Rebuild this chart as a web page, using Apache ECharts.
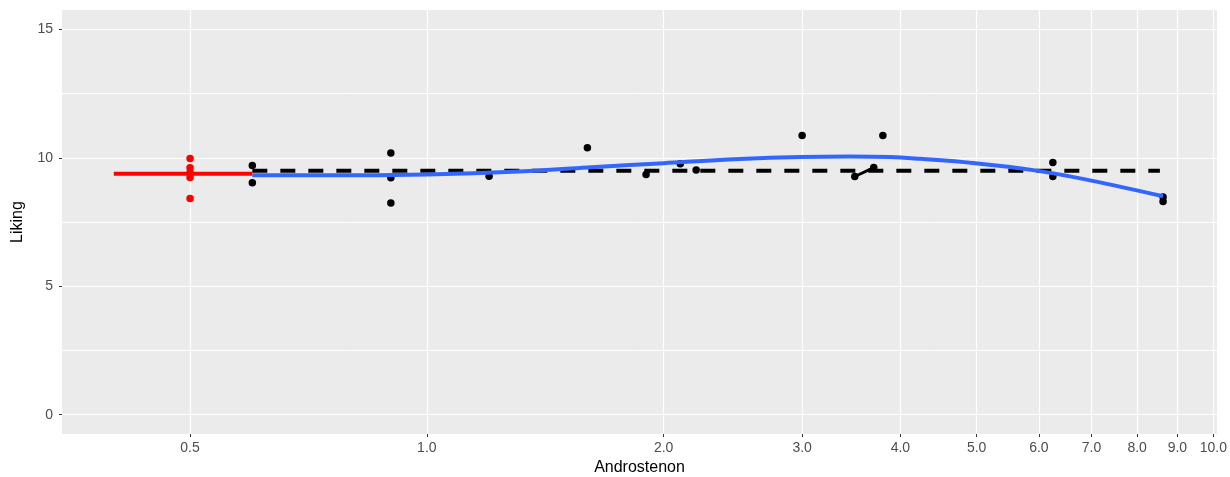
<!DOCTYPE html>
<html>
<head>
<meta charset="utf-8">
<title>Liking vs Androstenon</title>
<script src="https://cdn.jsdelivr.net/npm/echarts@6/dist/echarts.min.js"></script>
<style>
  html, body { margin: 0; padding: 0; background: #ffffff; }
  #chart { width: 1230px; height: 477px; }
</style>
</head>
<body>
<div id="chart"></div>
<script>
// Androstenon concentration (log scale) against liking scores
const xTicks = [0.5, 1, 2, 3, 4, 5, 6, 7, 8, 9, 10];
const xTickLabels = ['0.5', '1.0', '2.0', '3.0', '4.0', '5.0', '6.0', '7.0', '8.0', '9.0', '10.0'];
const yTicks = [0, 5, 10, 15];
const yMinorTicks = [2.5, 7.5, 12.5];

// control samples (red) at 0.5
const controlX = [0.5, 0.5, 0.5, 0.5, 0.5];
const controlY = [9.97, 9.61, 9.43, 9.23, 8.41];

// measured samples
const sampleX = [0.6, 0.6, 0.9, 0.9, 0.9, 1.2, 1.6, 1.9, 2.1, 2.2, 3.0, 3.5, 3.7, 3.8, 6.25, 6.25, 8.63, 8.63];
const sampleY = [9.70, 9.03, 10.19, 9.22, 8.24, 9.28, 10.39, 9.35, 9.77, 9.52, 10.87, 9.27, 9.62, 10.87, 9.82, 9.27, 8.47, 8.30];

// short link between the 3.5 and 3.7 samples
const linkX = [3.5, 3.7];
const linkY = [9.27, 9.62];

// control mean level
const controlLineX = [0.4, 0.6];
const controlLineY = [9.38, 9.38];

// overall mean of the samples (dashed)
const meanLineX = [0.6, 8.55];
const meanLineY = [9.49, 9.49];

// smoothed trend (blue)
const smoothX = [0.6, 0.82, 1.0, 1.31, 1.6, 2.0, 2.5, 2.98, 3.45, 3.88, 4.24, 4.94, 5.96, 6.97, 8.63];
const smoothY = [9.32, 9.32, 9.35, 9.47, 9.62, 9.79, 9.95, 10.03, 10.05, 10.03, 9.96, 9.80, 9.50, 9.12, 8.50];

const lg = v => Math.log10(v);
const pairs = (xs, ys) => xs.map((x, i) => [lg(x), ys[i]]);

const chart = echarts.init(document.getElementById('chart'), null, { renderer: 'canvas' });

const labelFont = { fontFamily: 'Liberation Sans, Arial, sans-serif', fontSize: 14, color: '#4D4D4D' };
const titleFont = { fontFamily: 'Liberation Sans, Arial, sans-serif', fontSize: 16, color: '#000000' };

chart.setOption({
  animation: false,
  backgroundColor: '#ffffff',
  grid: {
    left: 62, right: 13, top: 10, bottom: 43,
    outerBoundsMode: 'none',
    containLabel: false,
    show: true, backgroundColor: '#EBEBEB', borderWidth: 0
  },
  xAxis: {
    type: 'value',
    min: lg(0.3437),
    max: lg(10.106),
    name: 'Androstenon',
    nameLocation: 'middle',
    nameGap: 26,
    nameTextStyle: titleFont,
    axisLine: { show: false, onZero: false },
    axisTick: {
      show: true, length: 3,
      lineStyle: { color: '#333333', width: 1 },
      customValues: xTicks.map(lg)
    },
    axisLabel: {
      ...labelFont,
      margin: 7,
      customValues: xTicks.map(lg),
      formatter: v => {
        let best = 0, bd = Infinity;
        xTicks.forEach((t, i) => { const d = Math.abs(lg(t) - v); if (d < bd) { bd = d; best = i; } });
        return xTickLabels[best];
      }
    },
    splitLine: { show: true, lineStyle: { color: '#FFFFFF', width: 1.2 } }
  },
  yAxis: [
    {
      type: 'value',
      min: -0.75,
      max: 15.75,
      name: 'Liking',
      nameLocation: 'middle',
      nameGap: 36,
      nameTextStyle: titleFont,
      axisLine: { show: false, onZero: false },
      axisTick: {
        show: true, length: 3,
        lineStyle: { color: '#333333', width: 1 },
        customValues: yTicks
      },
      axisLabel: { ...labelFont, margin: 9, customValues: yTicks },
      splitLine: { show: true, lineStyle: { color: '#FFFFFF', width: 1.2 } }
    },
    {
      type: 'value',
      min: -0.75,
      max: 15.75,
      position: 'left',
      axisLine: { show: false, onZero: false },
      axisTick: { show: true, length: 0, lineStyle: { color: 'rgba(0,0,0,0)' }, customValues: yMinorTicks },
      axisLabel: { show: false, customValues: yMinorTicks },
      splitLine: { show: true, lineStyle: { color: '#FFFFFF', width: 1 } }
    }
  ],
  series: [
    {
      name: 'control',
      type: 'scatter',
      data: pairs(controlX, controlY),
      symbolSize: 7.5,
      itemStyle: { color: '#FF0000', opacity: 1 },
      z: 2
    },
    {
      name: 'samples',
      type: 'scatter',
      data: pairs(sampleX, sampleY),
      symbolSize: 7.5,
      itemStyle: { color: '#000000', opacity: 1 },
      z: 2
    },
    {
      name: 'link',
      type: 'line',
      data: pairs(linkX, linkY),
      showSymbol: false,
      lineStyle: { color: '#000000', width: 3 },
      z: 2
    },
    {
      name: 'control mean',
      type: 'line',
      data: pairs(controlLineX, controlLineY),
      showSymbol: false,
      lineStyle: { color: '#FF0000', width: 4 },
      z: 3
    },
    {
      name: 'sample mean',
      type: 'line',
      data: pairs(meanLineX, meanLineY),
      showSymbol: false,
      lineStyle: { color: '#000000', width: 4, type: [15, 13], cap: 'butt' },
      z: 3
    },
    {
      name: 'trend',
      type: 'line',
      data: pairs(smoothX, smoothY),
      showSymbol: false,
      smooth: 0.4,
      lineStyle: { color: '#3366FF', width: 4 },
      z: 4
    }
  ]
});
</script>
</body>
</html>
